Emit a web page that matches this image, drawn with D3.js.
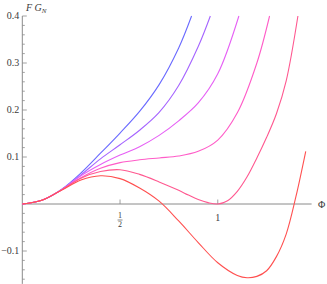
<!DOCTYPE html>
<html>
<head>
<meta charset="utf-8">
<script src="https://cdn.jsdelivr.net/npm/d3@7"></script>
<style>
  body { margin: 0; background: #fff; }
</style>
</head>
<body>
<div id="chart"></div>
<script>
// curves, [phi, F*G_N]
var curveBlue = [[0,0],[0.1,0.008],[0.2,0.031],[0.3,0.066],[0.4,0.108],[0.5,0.151],[0.6,0.197],[0.7,0.254],[0.8,0.332],[0.866,0.400]];
var curvePurple = [[0,0],[0.1,0.008],[0.2,0.030],[0.3,0.062],[0.4,0.096],[0.5,0.126],[0.6,0.157],[0.7,0.195],[0.8,0.252],[0.9,0.335],[0.962,0.400]];
var curveMagenta = [[0,0],[0.1,0.008],[0.2,0.030],[0.3,0.060],[0.4,0.084],[0.5,0.104],[0.6,0.122],[0.7,0.146],[0.8,0.177],[0.9,0.215],[1.0,0.277],[1.108,0.400]];
var curvePink = [[0,0],[0.1,0.008],[0.2,0.030],[0.3,0.056],[0.4,0.076],[0.5,0.088],[0.6,0.094],[0.7,0.098],[0.8,0.102],[0.9,0.112],[1.0,0.136],[1.1,0.194],[1.2,0.300],[1.265,0.400]];
var curveRose = [[0,0],[0.1,0.008],[0.2,0.030],[0.3,0.055],[0.4,0.069],[0.5,0.073],[0.6,0.063],[0.7,0.047],[0.8,0.029],[0.85,0.019],[0.9,0.0095],[0.95,0.003],[1.0,0.0],[1.05,0.007],[1.1,0.027],[1.15,0.058],[1.2,0.098],[1.25,0.142],[1.3,0.192],[1.35,0.262],[1.41,0.400]];
var curveRed = [[0,0],[0.1,0.008],[0.2,0.029],[0.3,0.051],[0.4,0.060],[0.5,0.054],[0.6,0.034],[0.7,0.006],[0.8,-0.036],[0.9,-0.082],[1.0,-0.125],[1.1,-0.152],[1.15,-0.157],[1.2,-0.154],[1.25,-0.142],[1.3,-0.112],[1.35,-0.064],[1.4,0.016],[1.45,0.112]];

var allCurves = [curveBlue, curvePurple, curveMagenta, curvePink, curveRose, curveRed];
var curveColors = ["#6a6aff", "#a564ff", "#e660f5", "#ff5cc8", "#ff5890", "#ff5050"];

var yTicks = [-0.1, 0.1, 0.2, 0.3, 0.4];
var yTickLabels = ["\u22120.1", "0.1", "0.2", "0.3", "0.4"];
var xTicks = [0.5, 1];

var width = 327, height = 284;
var serif = "'Liberation Serif', 'Times New Roman', 'DejaVu Serif', serif";

var x = d3.scaleLinear().domain([0, 1.48]).range([22.3, 311.6]);
var y = d3.scaleLinear().domain([-0.17, 0.4]).range([283.9, 16]);

var svg = d3.select("#chart").append("svg")
    .attr("width", width)
    .attr("height", height)
    .attr("font-family", serif);

var axisColor = "#8a8a8a";
var textColor = "#3a3a3a";

// y axis
svg.append("line")
    .attr("x1", x(0)).attr("x2", x(0))
    .attr("y1", y(0.4)).attr("y2", y(-0.17))
    .attr("stroke", axisColor).attr("stroke-width", 1);

// x axis
svg.append("line")
    .attr("x1", x(0)).attr("x2", x(1.48))
    .attr("y1", y(0)).attr("y2", y(0))
    .attr("stroke", axisColor).attr("stroke-width", 1);

// minor y ticks every 0.02
var minorY = d3.range(-16, 21).map(function(i) { return i * 0.02; })
    .filter(function(v) { return Math.abs(v) > 1e-9 && Math.abs(Math.round(v * 10) - v * 10) > 1e-6; });

svg.selectAll(".minorY")
    .data(minorY)
    .enter()
    .append("line")
    .attr("class", "minorY")
    .attr("x1", x(0)).attr("x2", x(0) + 2.5)
    .attr("y1", function(d) { return y(d); })
    .attr("y2", function(d) { return y(d); })
    .attr("stroke", axisColor).attr("stroke-width", 0.8);

svg.selectAll(".majorY")
    .data(yTicks)
    .enter()
    .append("line")
    .attr("class", "majorY")
    .attr("x1", x(0)).attr("x2", x(0) + 4.5)
    .attr("y1", function(d) { return y(d); })
    .attr("y2", function(d) { return y(d); })
    .attr("stroke", axisColor).attr("stroke-width", 0.8);

svg.selectAll(".yLabel")
    .data(yTicks)
    .enter()
    .append("text")
    .attr("class", "yLabel")
    .attr("x", x(0) - 3)
    .attr("y", function(d) { return y(d) + 3; })
    .attr("text-anchor", "end")
    .attr("font-size", 10)
    .attr("fill", textColor)
    .text(function(d, i) { return yTickLabels[i]; });

// x ticks
svg.selectAll(".majorX")
    .data(xTicks)
    .enter()
    .append("line")
    .attr("class", "majorX")
    .attr("x1", function(d) { return x(d); })
    .attr("x2", function(d) { return x(d); })
    .attr("y1", y(0)).attr("y2", y(0) - 4.5)
    .attr("stroke", axisColor).attr("stroke-width", 0.8);

// 1/2 as a fraction
var half = svg.append("g").attr("transform", "translate(" + x(0.5) + "," + y(0) + ")");
half.append("text").attr("x", 0).attr("y", 14).attr("text-anchor", "middle")
    .attr("font-size", 8).attr("fill", textColor).text("1");
half.append("line").attr("x1", -2.5).attr("x2", 2.5).attr("y1", 16).attr("y2", 16)
    .attr("stroke", textColor).attr("stroke-width", 0.6);
half.append("text").attr("x", 0).attr("y", 23).attr("text-anchor", "middle")
    .attr("font-size", 8).attr("fill", textColor).text("2");

svg.append("text")
    .attr("x", x(1)).attr("y", y(0) + 17)
    .attr("text-anchor", "middle")
    .attr("font-size", 10)
    .attr("fill", textColor)
    .text("1");

// axis labels
var yl = svg.append("text")
    .attr("x", 26).attr("y", 11)
    .attr("font-size", 10)
    .attr("fill", textColor)
    .attr("font-style", "italic");
yl.append("tspan").text("F G");
yl.append("tspan").attr("dy", 2).attr("font-size", 7).text("N");

svg.append("text")
    .attr("x", 318).attr("y", y(0) + 3.5)
    .attr("font-size", 10)
    .attr("fill", textColor)
    .text("\u03A6");

// curves
var line = d3.line()
    .x(function(d) { return x(d[0]); })
    .y(function(d) { return y(d[1]); })
    .curve(d3.curveCatmullRom.alpha(0.5));

svg.selectAll(".curve")
    .data(allCurves)
    .enter()
    .append("path")
    .attr("class", "curve")
    .attr("d", line)
    .attr("fill", "none")
    .attr("stroke", function(d, i) { return curveColors[i]; })
    .attr("stroke-width", 1.1);
</script>
</body>
</html>
